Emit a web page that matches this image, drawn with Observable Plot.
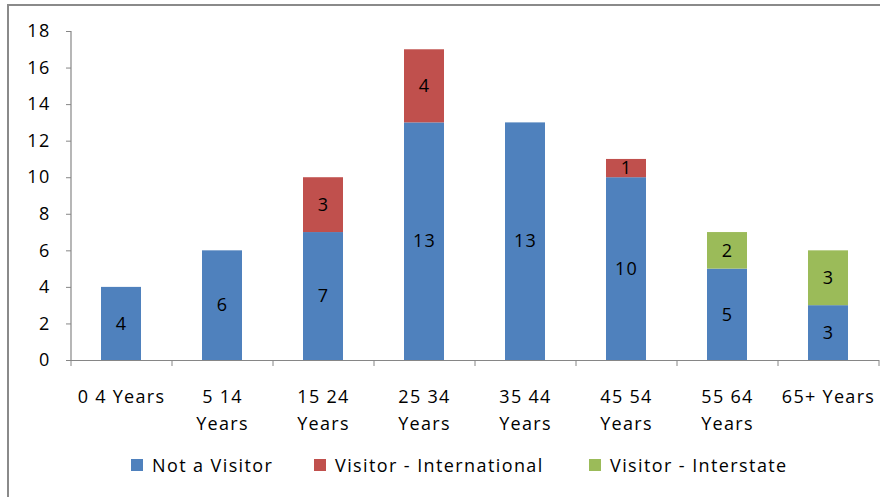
<!DOCTYPE html>
<html>
<head>
<meta charset="utf-8">
<script src="https://cdn.jsdelivr.net/npm/d3@7"></script>
<script src="https://cdn.jsdelivr.net/npm/@observablehq/plot@0.6"></script>
<style>
  body { margin: 0; background: #fff; font-family: "Open Sans", sans-serif; }
  #frame { position: absolute; left: 7px; top: 4px; width: 900px; height: 520px;
           border-left: 2px solid #8a8a8a; border-top: 2px solid #8a8a8a; }
  #chart { position: absolute; left: 0; top: 0; }
  #chart svg text { letter-spacing: 1.3px; }
  #legend { position: absolute; left: 0; top: 453px; width: 880px; height: 26px;
            font-size: 18px; letter-spacing: 1.4px; color: #000; }
  .item { position: absolute; top: 0; display: flex; align-items: center; white-space: nowrap; }
  .sw { width: 12px; height: 12px; margin-right: 9px; }
</style>
</head>
<body>
<div id="frame"></div>
<div id="chart"></div>
<div id="legend"></div>
<script>
const categories = ["0 4 Years", "5 14 Years", "15 24 Years", "25 34 Years", "35 44 Years", "45 54 Years", "55 64 Years", "65+ Years"];
const tickLabels = ["0 4 Years", "5 14\nYears", "15 24\nYears", "25 34\nYears", "35 44\nYears", "45 54\nYears", "55 64\nYears", "65+ Years"];
const series = ["Not a Visitor", "Visitor - International", "Visitor - Interstate"];
const notVisitor = [4, 6, 7, 13, 13, 10, 5, 3];
const international = [0, 0, 3, 4, 0, 1, 0, 0];
const interstate = [0, 0, 0, 0, 0, 0, 2, 3];
const colors = ["#4F81BD", "#C0504D", "#9BBB59"];
const yTicks = [0, 2, 4, 6, 8, 10, 12, 14, 16, 18];

const seriesValues = [notVisitor, international, interstate];
const rows = [];
categories.forEach((c, i) => {
  series.forEach((s, j) => {
    const v = seriesValues[j][i];
    if (v > 0) rows.push({category: c, series: s, value: v});
  });
});
const labelOf = new Map(categories.map((c, i) => [c, tickLabels[i]]));
const gray = "#868686";

const plot = Plot.plot({
  width: 880,
  height: 440,
  marginLeft: 71,
  marginRight: 1,
  marginTop: 31,
  marginBottom: 80,
  style: {fontFamily: "'Open Sans', sans-serif", fontSize: "18px", color: "#000", background: "transparent"},
  x: {domain: categories, paddingInner: 0.6, paddingOuter: 0.3, axis: null},
  y: {domain: [0, 18], axis: null},
  color: {domain: series, range: colors},
  marks: [
    Plot.barY(rows, {x: "category", y: "value", fill: "series", order: null}),
    Plot.text(rows, Plot.stackY({x: "category", y: "value", text: d => String(d.value), fill: "#000", fontSize: 18, order: null})),
    Plot.ruleY([0], {stroke: gray, strokeWidth: 1.2}),
    Plot.ruleX([categories[0]], {dx: -50.5, stroke: gray, strokeWidth: 1.2}),
    Plot.axisY(yTicks, {tickSize: 5, tickPadding: 16, stroke: gray, fill: "#000", label: null}),
    Plot.axisX({tickSize: 6, tickFormat: () => "", dx: -50.5, stroke: gray, label: null}),
    Plot.axisX([categories[categories.length - 1]], {tickSize: 6, tickFormat: () => "", dx: 50.5, stroke: gray, label: null}),
    Plot.axisX({tickSize: 0, tickPadding: 23, lineHeight: 1.5, tickFormat: d => labelOf.get(d), fill: "#000", label: null})
  ]
});
document.getElementById("chart").appendChild(plot);

// legend layout (pixel positions of each legend entry)
const legendLeft = [131, 314, 589];
const legend = document.getElementById("legend");
series.forEach((s, i) => {
  const item = document.createElement("div");
  item.className = "item";
  item.style.left = legendLeft[i] + "px";
  const sw = document.createElement("span");
  sw.className = "sw";
  sw.style.background = colors[i];
  const t = document.createElement("span");
  t.textContent = s;
  item.appendChild(sw);
  item.appendChild(t);
  legend.appendChild(item);
});
</script>
</body>
</html>
